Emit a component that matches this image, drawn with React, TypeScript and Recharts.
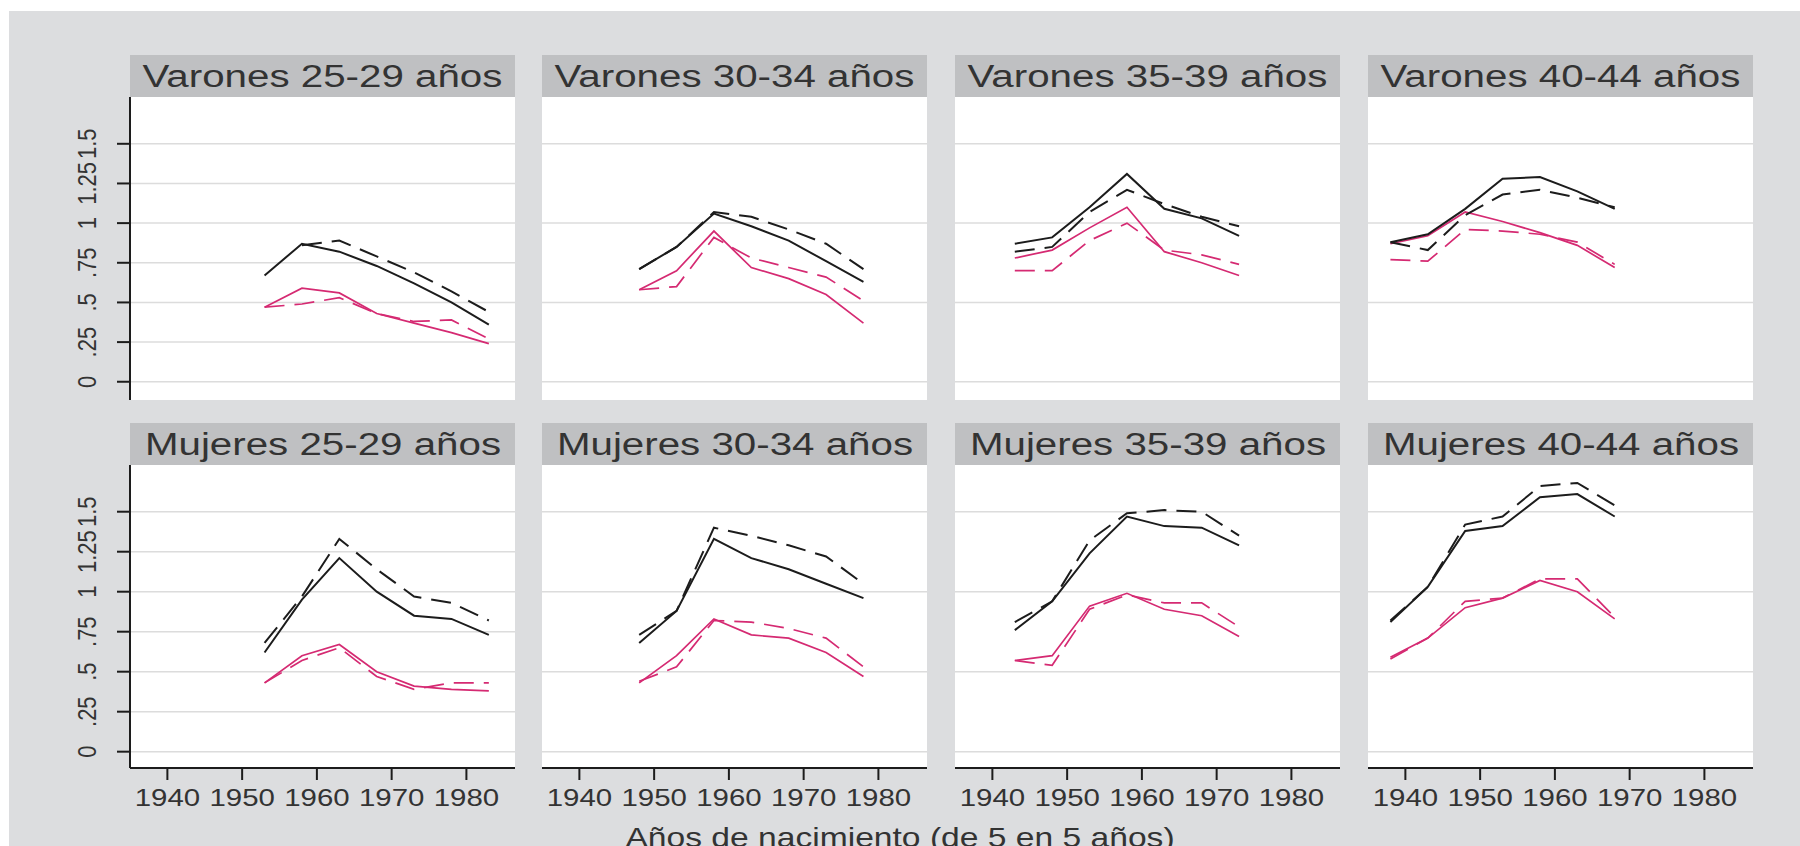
import React from "react";
import { LineChart, Line, XAxis, YAxis, ReferenceLine } from "recharts";

const FONT = '"Liberation Sans", Arial, Helvetica, sans-serif';
const C = {
  page: "#ffffff",
  bg: "#dcdddf",
  strip: "#bfc0c2",
  text: "#333333",
  ink: "#1c1c1c",
  pink: "#d52a72",
  grid: "#dcdcdc",
};

// axes
const xTicks = [1940, 1950, 1960, 1970, 1980];
const yTicks = [0, 0.25, 0.5, 0.75, 1, 1.25, 1.5];
const yTickLabels = ["0", ".25", ".5", ".75", "1", "1.25", "1.5"];
const gridAll = [0, 0.25, 0.5, 0.75, 1, 1.25, 1.5];
const gridHalf = [0, 0.5, 1, 1.5];
const xTitle = "Años de nacimiento (de 5 en 5 años)";

// birth cohorts per age group
const years2529 = [1953, 1958, 1963, 1968, 1973, 1978, 1983];
const years3034 = [1948, 1953, 1958, 1963, 1968, 1973, 1978];
const years3539 = [1943, 1948, 1953, 1958, 1963, 1968, 1973];
const years4044 = [1938, 1943, 1948, 1953, 1958, 1963, 1968];

// Varones
const v25BlackSolid = [0.67, 0.87, 0.82, 0.73, 0.62, 0.5, 0.36];
const v25BlackDash = [null, 0.86, 0.89, 0.79, 0.69, 0.57, 0.44];
const v25PinkSolid = [0.47, 0.59, 0.56, 0.43, 0.37, 0.31, 0.24];
const v25PinkDash = [0.47, 0.49, 0.53, 0.43, 0.38, 0.39, 0.27];

const v30BlackSolid = [0.71, 0.85, 1.06, 0.98, 0.89, 0.76, 0.63];
const v30BlackDash = [0.71, 0.85, 1.07, 1.04, 0.96, 0.87, 0.71];
const v30PinkSolid = [0.58, 0.7, 0.95, 0.72, 0.65, 0.55, 0.37];
const v30PinkDash = [0.58, 0.6, 0.91, 0.78, 0.72, 0.66, 0.51];

const v35BlackSolid = [0.87, 0.91, 1.1, 1.31, 1.09, 1.03, 0.92];
const v35BlackDash = [0.82, 0.85, 1.07, 1.21, 1.12, 1.04, 0.98];
const v35PinkSolid = [0.78, 0.83, 0.97, 1.1, 0.82, 0.75, 0.67];
const v35PinkDash = [0.7, 0.7, 0.89, 1.0, 0.83, 0.8, 0.74];

const v40BlackSolid = [0.88, 0.93, 1.09, 1.28, 1.29, 1.2, 1.09];
const v40BlackDash = [0.88, 0.83, 1.05, 1.18, 1.21, 1.16, 1.1];
const v40PinkSolid = [0.87, 0.92, 1.07, 1.01, 0.94, 0.86, 0.72];
const v40PinkDash = [0.77, 0.76, 0.96, 0.95, 0.93, 0.88, 0.74];

// Mujeres
const m25BlackSolid = [0.62, 0.95, 1.21, 1.0, 0.85, 0.83, 0.73];
const m25BlackDash = [0.68, 0.97, 1.33, 1.14, 0.97, 0.93, 0.82];
const m25PinkSolid = [0.43, 0.6, 0.67, 0.5, 0.41, 0.39, 0.38];
const m25PinkDash = [0.43, 0.57, 0.65, 0.47, 0.39, 0.43, 0.43];

const m30BlackSolid = [0.68, 0.88, 1.33, 1.21, 1.14, 1.05, 0.96];
const m30BlackDash = [0.73, 0.88, 1.4, 1.35, 1.29, 1.22, 1.05];
const m30PinkSolid = [0.43, 0.6, 0.83, 0.73, 0.71, 0.62, 0.47];
const m30PinkDash = [0.44, 0.53, 0.82, 0.81, 0.77, 0.71, 0.53];

const m35BlackSolid = [0.76, 0.94, 1.24, 1.47, 1.41, 1.4, 1.29];
const m35BlackDash = [0.81, 0.94, 1.32, 1.49, 1.51, 1.5, 1.35];
const m35PinkSolid = [0.57, 0.6, 0.91, 0.99, 0.89, 0.85, 0.72];
const m35PinkDash = [0.57, 0.54, 0.89, 0.98, 0.93, 0.93, 0.78];

const m40BlackSolid = [0.81, 1.03, 1.38, 1.41, 1.59, 1.61, 1.47];
const m40BlackDash = [0.82, 1.03, 1.42, 1.47, 1.66, 1.68, 1.54];
const m40PinkSolid = [0.59, 0.71, 0.9, 0.96, 1.07, 1.0, 0.83];
const m40PinkDash = [0.58, 0.71, 0.94, 0.96, 1.08, 1.08, 0.84];

type Series = (number | null)[];
type Panel = { title: string; years: number[]; bs: Series; bd: Series; ps: Series; pd: Series };

const panels: Panel[][] = [
  [
    { title: "Varones 25-29 años", years: years2529, bs: v25BlackSolid, bd: v25BlackDash, ps: v25PinkSolid, pd: v25PinkDash },
    { title: "Varones 30-34 años", years: years3034, bs: v30BlackSolid, bd: v30BlackDash, ps: v30PinkSolid, pd: v30PinkDash },
    { title: "Varones 35-39 años", years: years3539, bs: v35BlackSolid, bd: v35BlackDash, ps: v35PinkSolid, pd: v35PinkDash },
    { title: "Varones 40-44 años", years: years4044, bs: v40BlackSolid, bd: v40BlackDash, ps: v40PinkSolid, pd: v40PinkDash },
  ],
  [
    { title: "Mujeres 25-29 años", years: years2529, bs: m25BlackSolid, bd: m25BlackDash, ps: m25PinkSolid, pd: m25PinkDash },
    { title: "Mujeres 30-34 años", years: years3034, bs: m30BlackSolid, bd: m30BlackDash, ps: m30PinkSolid, pd: m30PinkDash },
    { title: "Mujeres 35-39 años", years: years3539, bs: m35BlackSolid, bd: m35BlackDash, ps: m35PinkSolid, pd: m35PinkDash },
    { title: "Mujeres 40-44 años", years: years4044, bs: m40BlackSolid, bd: m40BlackDash, ps: m40PinkSolid, pd: m40PinkDash },
  ],
];

// layout
const COL_X = [130, 542, 955, 1368];
const PLOT_W = 385;
const PLOT_H = 303;
const ROW = [
  { stripTop: 55, plotTop: 97, domain: [-0.115, 1.795] as [number, number] },
  { stripTop: 423, plotTop: 465, domain: [-0.102, 1.792] as [number, number] },
];
const STRIP_H = 42;
const YAX_W = 70;
const XAX_H = 60;
const X_DOMAIN: [number, number] = [1935, 1986.5];

const XTick = (props: any) => {
  const { x, y, payload } = props;
  return (
    <text transform={`translate(${x},${y}) scale(1.28,1)`} textAnchor="middle" dy="0.72em"
      fontSize={23} fill={C.text} fontFamily={FONT}>
      {payload.value}
    </text>
  );
};

const YTick = (props: any) => {
  const { x, y, payload } = props;
  const label = yTickLabels[yTicks.indexOf(payload.value)] ?? String(payload.value);
  return (
    <g transform={`translate(${x - 28},${y}) rotate(-90)`}>
      <text textAnchor="middle" dy="0.36em" fontSize={22} fill={C.text} fontFamily={FONT}
        transform="scale(1,1.15)">{label}</text>
    </g>
  );
};

function PanelChart({ p, row, col }: { p: Panel; row: number; col: number }) {
  const first = col === 0;
  const bottom = row === 1;
  const r = ROW[row];
  const data = p.years.map((yr, i) => ({ year: yr, bs: p.bs[i], bd: p.bd[i], ps: p.ps[i], pd: p.pd[i] }));
  const grid = first ? gridAll : gridHalf;
  const width = PLOT_W + (first ? YAX_W : 0);
  const height = PLOT_H + (bottom ? XAX_H : 0);
  return (
    <>
      <div style={{
        position: "absolute", left: COL_X[col], top: r.stripTop, width: PLOT_W, height: STRIP_H,
        background: C.strip, display: "flex", alignItems: "center", justifyContent: "center", overflow: "hidden",
      }}>
        <span style={{
          fontFamily: FONT, fontSize: 31, color: C.text, whiteSpace: "nowrap",
          display: "inline-block", transform: "scaleX(1.3)", lineHeight: 1,
        }}>{p.title}</span>
      </div>
      <div style={{ position: "absolute", left: COL_X[col], top: r.plotTop, width: PLOT_W, height: PLOT_H, background: "#fff" }} />
      <div style={{ position: "absolute", left: COL_X[col] - (first ? YAX_W : 0), top: r.plotTop }}>
        <LineChart width={width} height={height} data={data} margin={{ top: 0, right: 0, bottom: 0, left: 0 }}>
          <XAxis dataKey="year" type="number" domain={X_DOMAIN} ticks={xTicks} allowDataOverflow
            hide={!bottom} height={XAX_H} interval={0}
            axisLine={{ stroke: C.ink, strokeWidth: 2 }} tickLine={{ stroke: C.ink, strokeWidth: 2 }}
            tickSize={12} tickMargin={9} tick={<XTick />} />
          <YAxis type="number" domain={r.domain} ticks={yTicks} allowDataOverflow hide={!first}
            width={YAX_W} interval={0}
            axisLine={{ stroke: C.ink, strokeWidth: 2 }} tickLine={{ stroke: C.ink, strokeWidth: 2 }}
            tickSize={13} tick={<YTick />} />
          {grid.map((g) => (
            <ReferenceLine key={g} y={g} stroke={C.grid} strokeWidth={1.5} ifOverflow="visible" />
          ))}
          <Line type="linear" dataKey="ps" stroke={C.pink} strokeWidth={1.7} dot={false} isAnimationActive={false} />
          <Line type="linear" dataKey="pd" stroke={C.pink} strokeWidth={1.7} strokeDasharray="20 10" dot={false} isAnimationActive={false} />
          <Line type="linear" dataKey="bs" stroke={C.ink} strokeWidth={2} dot={false} isAnimationActive={false} />
          <Line type="linear" dataKey="bd" stroke={C.ink} strokeWidth={2} strokeDasharray="20 10" dot={false} isAnimationActive={false} />
        </LineChart>
      </div>
    </>
  );
}

export default function App() {
  return (
    <div style={{ position: "absolute", left: 0, top: 0, width: 1800, height: 846, overflow: "hidden", background: C.page }}>
      <div style={{ position: "absolute", left: 9, top: 11, width: 1791, height: 835, background: C.bg }} />
      {panels.map((rowPanels, r) =>
        rowPanels.map((p, c) => <PanelChart key={`${r}-${c}`} p={p} row={r} col={c} />),
      )}
      <div style={{ position: "absolute", left: 0, top: 824, width: 1800, height: 40 }}>
        <span style={{
          position: "absolute", left: 900, top: 0, fontFamily: FONT, fontSize: 28, lineHeight: "28px",
          color: C.text, whiteSpace: "nowrap", transform: "translateX(-50%) scaleX(1.2)",
        }}>{xTitle}</span>
      </div>
    </div>
  );
}
